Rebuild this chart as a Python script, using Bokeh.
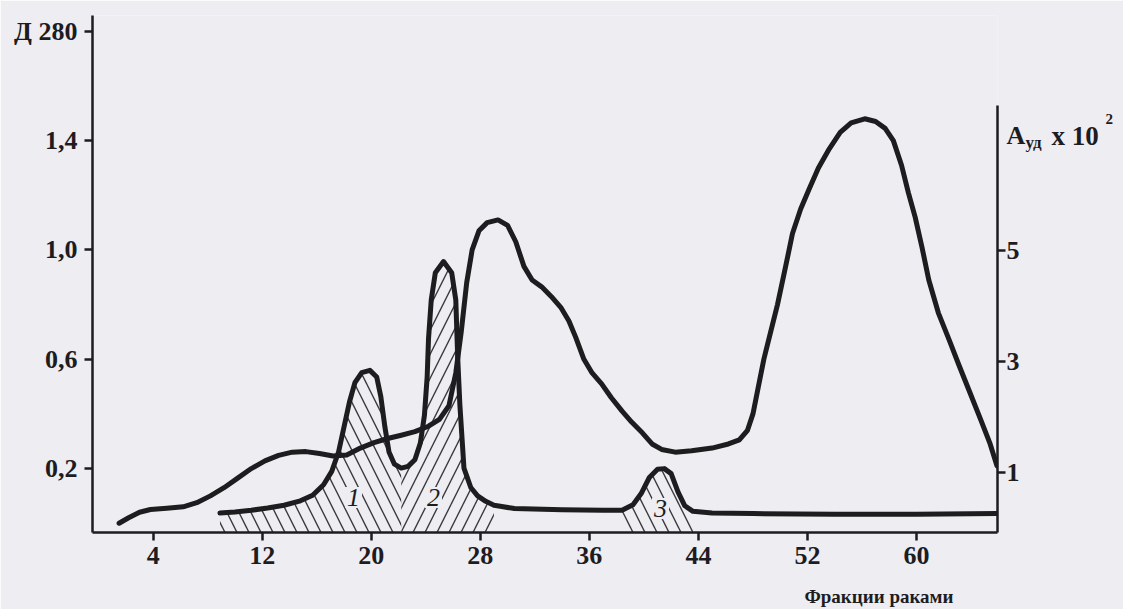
from bokeh.plotting import figure
from bokeh.models import Range1d, LinearAxis, FixedTicker, Label
from bokeh.embed import file_html
from bokeh.resources import INLINE

# ---------------- data ----------------
fraction_a = [1.5, 2.2, 3.0, 3.8, 5.0, 6.2, 7.2, 8.2, 9.2, 10.2, 11.2, 12.2, 13.2,
              14.2, 15.2, 16.2, 17.2, 18.2, 19.2, 20.2, 21.2, 22.2, 23.2, 24.2,
              25.0, 25.7, 26.2, 26.6, 27.0, 27.4, 27.9, 28.5, 29.3, 30.0, 30.6,
              31.2, 31.8, 32.5, 33.2, 33.9, 34.5, 35.0, 35.6, 36.2, 36.9, 37.6,
              38.4, 39.1, 39.9, 40.6, 41.3, 42.3, 43.5, 45.0, 46.2, 47.0, 47.6,
              48.0, 48.4, 48.8, 49.3, 49.8, 50.4, 50.9, 51.5, 52.1, 52.8, 53.6,
              54.4, 55.2, 56.2, 57.0, 57.7, 58.3, 58.9, 59.4, 59.9, 60.4, 60.9,
              61.6, 62.4, 63.1, 63.9, 64.7, 65.4, 65.9]
d280 = [0.0, 0.02, 0.04, 0.05, 0.055, 0.06, 0.075, 0.10, 0.13, 0.165, 0.20, 0.228,
        0.248, 0.26, 0.262, 0.255, 0.246, 0.25, 0.275, 0.295, 0.31, 0.322, 0.335,
        0.355, 0.38, 0.43, 0.55, 0.70, 0.88, 1.0, 1.07, 1.10, 1.11, 1.09, 1.03,
        0.94, 0.89, 0.865, 0.83, 0.79, 0.74, 0.68, 0.60, 0.55, 0.51, 0.46, 0.41,
        0.37, 0.33, 0.29, 0.27, 0.26, 0.265, 0.275, 0.29, 0.305, 0.34, 0.40, 0.50,
        0.60, 0.70, 0.80, 0.94, 1.06, 1.15, 1.22, 1.30, 1.37, 1.43, 1.465, 1.48,
        1.47, 1.445, 1.40, 1.31, 1.21, 1.12, 1.01, 0.89, 0.77, 0.67, 0.58, 0.48,
        0.38, 0.29, 0.21]

fraction_b = [8.9, 10.0, 11.2, 12.4, 13.6, 14.8, 15.7, 16.5, 17.1, 17.6, 18.0, 18.4,
              18.8, 19.3, 19.9, 20.4, 20.7, 21.0, 21.3, 21.7, 22.2, 22.7, 23.2, 23.6,
              23.9, 24.1, 24.2, 24.4, 24.7, 25.3, 25.9, 26.2, 26.35, 26.5, 26.8,
              27.3, 27.8, 28.4, 29.0, 30.5, 34.0, 37.0, 38.4, 39.2, 39.8, 40.4,
              41.0, 41.5, 42.0, 42.5, 43.0, 43.6, 45.0, 48.0, 54.0, 60.0, 65.9]
activity = [0.27, 0.29, 0.32, 0.36, 0.41, 0.49, 0.59, 0.78, 1.02, 1.37, 1.82, 2.27,
            2.62, 2.8, 2.84, 2.72, 2.37, 1.82, 1.37, 1.15, 1.08, 1.11, 1.23, 1.53,
            2.03, 2.72, 3.41, 4.11, 4.6, 4.8, 4.6, 4.11, 3.02, 2.22, 1.08, 0.73,
            0.58, 0.48, 0.41, 0.35, 0.33, 0.32, 0.32, 0.42, 0.62, 0.91, 1.06, 1.07,
            0.98, 0.65, 0.40, 0.30, 0.27, 0.26, 0.25, 0.25, 0.26]

# hatched zones of the activity curve
zone_from = [8.9, 22.2, 38.4]
zone_to = [22.2, 29.0, 43.6]
zone_hatch = ["\\", "/", "\\"]
zone_label = ["1", "2", "3"]

x_ticks = [4, 12, 20, 28, 36, 44, 52, 60]
d_ticks = [0.2, 0.6, 1.0, 1.4]
d_tick_labels = ["0,2", "0,6", "1,0", "1,4"]
a_ticks = [1, 3, 5]
d_title = "Д 280"
x_title = "Фракции раками"

# ---------------- layout geometry (picture pixels) ----------------
W, H = 1123, 609
FL, FR, FT, FB = 92, 997, 15, 532
X0, X1 = -0.45, 65.94
Y0, Y1 = -0.034, 1.858
R0, R1 = -0.081, 9.234

def xd(px):
    return X0 + (px - FL) / (FR - FL) * (X1 - X0)

def yd(py):
    return Y0 + (FB - py) / (FB - FT) * (Y1 - Y0)

INK = "#1d1c1f"
BG = "#eeedf1"
FONT = "Liberation Serif"

p = figure(width=W, height=H, output_backend="svg", toolbar_location=None,
           x_range=Range1d(X0, X1), y_range=Range1d(Y0, Y1),
           min_border_left=FL, min_border_right=W - FR,
           min_border_top=FT, min_border_bottom=H - FB,
           background_fill_color=BG, border_fill_color=BG)
p.outline_line_color = None
p.grid.visible = False
p.extra_y_ranges = {"act": Range1d(R0, R1)}

def style_axis(ax):
    ax.axis_line_color = INK
    ax.axis_line_width = 2.5
    ax.major_tick_line_color = INK
    ax.major_tick_line_width = 2.5
    ax.major_tick_out = 8
    ax.major_tick_in = 0
    ax.minor_tick_line_color = None
    ax.major_label_text_font = FONT
    ax.major_label_text_font_style = "bold"
    ax.major_label_text_font_size = "26px"
    ax.major_label_text_color = INK

xa = p.xaxis[0]
xa.ticker = FixedTicker(ticks=x_ticks)
style_axis(xa)
xa.major_label_standoff = 6

# the left axis title sits at the top of the axis, level with its end
d_title_pos = yd(31)
ya = p.yaxis[0]
ya.ticker = FixedTicker(ticks=d_ticks + [d_title_pos])
overrides = {t: s for t, s in zip(d_ticks, d_tick_labels)}
overrides[d_title_pos] = d_title
ya.major_label_overrides = overrides
style_axis(ya)
ya.major_label_standoff = 7

ra = LinearAxis(y_range_name="act", ticker=FixedTicker(ticks=a_ticks),
                bounds=(R0, 7.61))
style_axis(ra)
ra.major_label_standoff = 1
p.add_layout(ra, "right")

# hatched zones under the activity curve
for lo, hi, pat in zip(zone_from, zone_to, zone_hatch):
    zx = [x for x in fraction_b if lo <= x <= hi]
    zy = [a for x, a in zip(fraction_b, activity) if lo <= x <= hi]
    p.varea(x=zx, y1=[R0] * len(zx), y2=zy, y_range_name="act",
            fill_color=None, fill_alpha=0, hatch_pattern=pat, hatch_scale=24,
            hatch_weight=1.4, hatch_color="#3a393d")

# curves
p.line(fraction_a, d280, line_color=INK, line_width=5,
       line_join="round", line_cap="round")
p.line(fraction_b, activity, y_range_name="act", line_color=INK, line_width=5,
       line_join="round", line_cap="round")

# zone numbers
for lbl, (px, py) in zip(zone_label, [(353, 497), (433, 497), (660, 508)]):
    p.add_layout(Label(x=xd(px), y=yd(py), text=lbl, text_font=FONT,
                       text_font_style="italic", text_font_size="26px",
                       text_color=INK, text_align="center",
                       text_baseline="middle", background_fill_color=BG,
                       padding=2))

# texts outside the frame live in side panels (not clipped there)
def txt_side(s, px, py, size, side, align="left", baseline="alphabetic"):
    p.add_layout(Label(x=xd(px), y=yd(py), text=s, text_font=FONT,
                       text_font_style="bold", text_font_size=size,
                       text_color=INK, text_align=align,
                       text_baseline=baseline), side)

txt_side("A", 1006, 135, "26px", "right")
txt_side("уд", 1025, 142, "17px", "right")
txt_side("x 10", 1051, 135, "27px", "right")
txt_side("2", 1105, 118, "15px", "right")
txt_side(x_title, 953, 596, "19px", "below", align="right", baseline="middle")

open("out.html", "w").write(file_html(p, INLINE))
